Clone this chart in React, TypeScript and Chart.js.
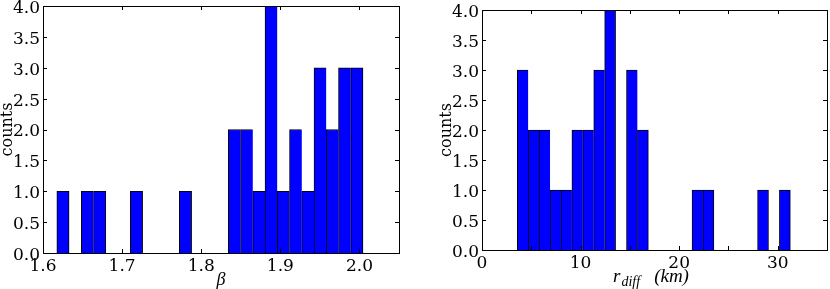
import React, { useEffect, useRef } from 'react';
import { Chart, registerables } from 'chart.js';

Chart.register(...registerables);

// ---------- data ----------
// Left histogram: beta
const betaBinStart = 1.6175;
const betaBinWidth = 0.01548;
const betaCounts = [1, 0, 1, 1, 0, 0, 1, 0, 0, 0, 1, 0, 0, 0, 2, 2, 1, 4, 1, 2, 1, 3, 2, 3, 3];
const betaXMin = 1.6;
const betaXMax = 2.05;
const betaXStep = 0.1;
const betaXTitle = 'β';

// Right histogram: r_diff (km)
const rBinStart = 3.58;
const rBinWidth = 1.108;
const rCounts = [3, 2, 2, 1, 1, 2, 2, 3, 4, 0, 3, 2, 0, 0, 0, 0, 1, 1, 0, 0, 0, 0, 1, 0, 1];
const rXMin = 0;
const rXMax = 35;
const rXStep = 5;
const rXLabelStep = 10;
const rTitleMain = 'r';
const rTitleSub = 'diff';
const rTitleUnit = '(km)';

const yMin = 0;
const yMax = 4;
const yStep = 0.5;
const yTitle = 'counts';

// ---------- helpers ----------
const SERIF = "'DejaVu Serif', serif";

function histPoints(start: number, width: number, counts: number[]) {
  return counts
    .map((c, i) => ({ x: start + (i + 0.5) * width, y: c, i }))
    .filter((p) => p.y > 0);
}

const boxPlugin = {
  id: 'boxTicks',
  afterDatasetsDraw(chart: any) {
    const { ctx, chartArea: a, scales } = chart;
    const L = 4;
    ctx.save();
    ctx.strokeStyle = '#000';
    ctx.lineWidth = 1;
    ctx.beginPath();
    const xs = scales.x;
    xs.ticks.forEach((t: any) => {
      const px = Math.round(xs.getPixelForValue(t.value)) + 0.5;
      if (px <= a.left + 1 || px >= a.right - 1) return;
      ctx.moveTo(px, a.bottom);
      ctx.lineTo(px, a.bottom - L);
      ctx.moveTo(px, a.top);
      ctx.lineTo(px, a.top + L);
    });
    const ys = scales.y;
    ys.ticks.forEach((t: any) => {
      const py = Math.round(ys.getPixelForValue(t.value)) + 0.5;
      if (py <= a.top + 1 || py >= a.bottom - 1) return;
      ctx.moveTo(a.left, py);
      ctx.lineTo(a.left + L, py);
      ctx.moveTo(a.right, py);
      ctx.lineTo(a.right - L, py);
    });
    ctx.stroke();
    ctx.strokeRect(
      Math.round(a.left) + 0.5,
      Math.round(a.top) + 0.5,
      Math.round(a.right) - Math.round(a.left),
      Math.round(a.bottom) - Math.round(a.top)
    );
    ctx.restore();
  },
};

const rTitlePlugin = {
  id: 'rTitle',
  afterDraw(chart: any) {
    const { ctx, chartArea: a } = chart;
    ctx.save();
    ctx.fillStyle = '#000';
    ctx.textBaseline = 'alphabetic';
    const mainFont = "italic 19px 'Liberation Serif', serif";
    const subFont = "italic 14px 'Liberation Serif', serif";
    ctx.font = mainFont;
    const w1 = ctx.measureText(rTitleMain).width;
    const wu = ctx.measureText(rTitleUnit).width;
    ctx.font = subFont;
    const w2 = ctx.measureText(rTitleSub).width;
    const gap = 14;
    const total = w1 + w2 + gap + wu;
    let x = (a.left + a.right) / 2 - total / 2 - 4;
    const base = 282;
    ctx.font = mainFont;
    ctx.fillText(rTitleMain, x, base);
    x += w1 + 1;
    ctx.font = subFont;
    ctx.fillText(rTitleSub, x, base + 4);
    x += w2 + gap;
    ctx.font = mainFont;
    ctx.fillText(rTitleUnit, x, base);
    ctx.restore();
  },
};

interface Cfg {
  start: number;
  width: number;
  counts: number[];
  xMin: number;
  xMax: number;
  xStep: number;
  xLabel: (v: number) => string;
  xTitle: string | null;
  yAxisWidth: number;
  xAxisHeight: number;
  padTop: number;
  padRight: number;
  yTitlePad: number;
  extraPlugins: any[];
}

function makeChart(canvas: HTMLCanvasElement, c: Cfg) {
  const pts = histPoints(c.start, c.width, c.counts);
  return new Chart(canvas, {
    type: 'bar',
    data: {
      datasets: [
        {
          data: pts as any,
          backgroundColor: '#0000ff',
          borderColor: '#000000',
          borderSkipped: false,
          borderWidth: (ctx: any) => {
            const raw = ctx.raw;
            if (!raw) return 1;
            const nextEmpty = !(c.counts[raw.i + 1] > 0);
            return { top: 1, left: 1, bottom: 0, right: nextEmpty ? 1 : 0 };
          },
          barPercentage: 1,
          categoryPercentage: 1,
        } as any,
      ],
    },
    options: {
      responsive: false,
      animation: false,
      events: [],
      layout: { padding: { top: c.padTop, right: c.padRight, left: 0, bottom: 0 } },
      plugins: { legend: { display: false }, tooltip: { enabled: false } },
      scales: {
        x: {
          type: 'linear',
          offset: false,
          min: c.xMin,
          max: c.xMax,
          grid: { display: false, drawTicks: false, offset: false },
          border: { display: false },
          ticks: {
            stepSize: c.xStep,
            includeBounds: false,
            autoSkip: false,
            maxRotation: 0,
            padding: 3,
            color: '#000',
            font: { family: SERIF, size: 17 },
            callback: (v: any) => c.xLabel(Number(v)),
          },
          title: c.xTitle
            ? {
                display: true,
                text: c.xTitle,
                color: '#000',
                font: { family: "'Liberation Serif', serif", size: 18, style: 'italic' },
                padding: { top: 0, bottom: -2 },
              }
            : { display: false },
          afterFit: (s: any) => {
            s.height = c.xAxisHeight;
            s.paddingLeft = 0;
            s.paddingRight = 0;
          },
        } as any,
        y: {
          type: 'linear',
          min: yMin,
          max: yMax,
          grid: { display: false, drawTicks: false },
          border: { display: false },
          ticks: {
            stepSize: yStep,
            padding: 3,
            labelOffset: 2.5,
            color: '#000',
            font: { family: SERIF, size: 17 },
            callback: (v: any) => Number(v).toFixed(1),
          },
          title: {
            display: true,
            text: yTitle,
            color: '#000',
            font: { family: SERIF, size: 16 },
            padding: { top: c.yTitlePad, bottom: 0 },
          },
          afterFit: (s: any) => {
            s.width = c.yAxisWidth;
            s.paddingTop = 0;
            s.paddingBottom = 0;
          },
        } as any,
      },
    },
    plugins: [boxPlugin, ...c.extraPlugins],
  });
}

export default function App() {
  const leftRef = useRef<HTMLCanvasElement>(null);
  const rightRef = useRef<HTMLCanvasElement>(null);

  useEffect(() => {
    const left = makeChart(leftRef.current!, {
      start: betaBinStart,
      width: betaBinWidth,
      counts: betaCounts,
      xMin: betaXMin,
      xMax: betaXMax,
      xStep: betaXStep,
      xLabel: (v) => v.toFixed(1),
      xTitle: betaXTitle,
      yAxisWidth: 43,
      xAxisHeight: 36,
      padTop: 6,
      padRight: 16,
      yTitlePad: -2,
      extraPlugins: [],
    });
    const right = makeChart(rightRef.current!, {
      start: rBinStart,
      width: rBinWidth,
      counts: rCounts,
      xMin: rXMin,
      xMax: rXMax,
      xStep: rXStep,
      xLabel: (v) => (Math.abs(v % rXLabelStep) < 1e-9 ? String(Math.round(v)) : ''),
      xTitle: null,
      yAxisWidth: 67,
      xAxisHeight: 39,
      padTop: 10,
      padRight: 3,
      yTitlePad: 22,
      extraPlugins: [rTitlePlugin],
    });
    return () => {
      left.destroy();
      right.destroy();
    };
  }, []);

  return (
    <div style={{ position: 'fixed', left: 0, top: 0, width: 830, height: 289, background: '#fff' }}>
      <canvas
        ref={leftRef}
        width={415}
        height={289}
        style={{ position: 'absolute', left: 0, top: 0, width: 415, height: 289 }}
      />
      <canvas
        ref={rightRef}
        width={415}
        height={289}
        style={{ position: 'absolute', left: 415, top: 0, width: 415, height: 289 }}
      />
    </div>
  );
}
